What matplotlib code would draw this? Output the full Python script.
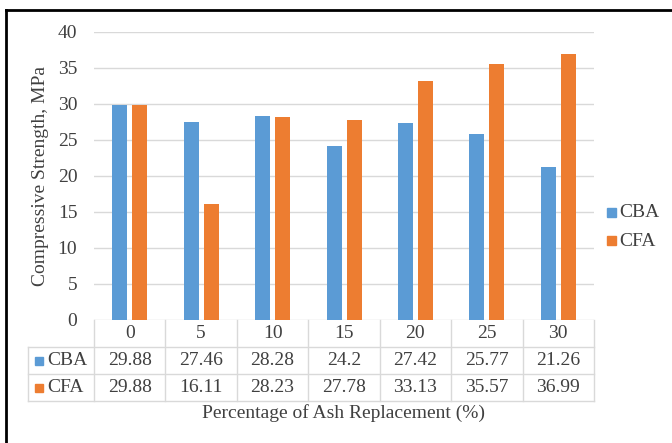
import matplotlib
matplotlib.use("Agg")
import matplotlib.pyplot as plt
import numpy as np
from matplotlib.lines import Line2D
from matplotlib.patches import Rectangle

plt.rcParams["font.family"] = ["Liberation Serif", "DejaVu Serif"]

# ash replacement levels (%) and strengths (MPa)
replacement = ["0", "5", "10", "15", "20", "25", "30"]
cba = [29.88, 27.46, 28.28, 24.2, 27.42, 25.77, 21.26]
cfa = [29.88, 16.11, 28.23, 27.78, 33.13, 35.57, 36.99]
series = ["CBA", "CFA"]
colors = ["#5B9BD5", "#ED7D31"]

W, H = 672, 443
FS = 14
fig = plt.figure(figsize=(W / 100, H / 100), dpi=100)

# plot area in pixel coordinates
x0, x1 = 94, 594
y_top, y_zero = 32, 320
ax = fig.add_axes([x0 / W, 1 - y_zero / H, (x1 - x0) / W, (y_zero - y_top) / H])

n = len(replacement)
x = np.arange(n)
bw = 0.21
gap = 0.035
ax.bar(x - gap - bw / 2, cba, bw, color=colors[0], zorder=3)
ax.bar(x + gap + bw / 2, cfa, bw, color=colors[1], zorder=3)

ax.set_xlim(-0.5, n - 0.5)
ax.set_ylim(0, 40)
ax.set_yticks(range(0, 41, 5))
ax.yaxis.grid(True, color="#d9d9d9", lw=1, zorder=0)
ax.tick_params(axis="y", length=0, pad=12, labelsize=FS, labelcolor="#404040")
ax.tick_params(axis="x", length=0, labelbottom=False)
for s in ax.spines.values():
    s.set_visible(False)
ax.set_ylabel("Compressive Strength, MPa", fontsize=FS, color="#404040", labelpad=6)

# data table below the axis, in figure pixel coords
def fx(px):
    return px / W

def fy(py):
    return 1 - py / H

col_w = (x1 - x0) / n
rows = [320, 347, 374, 401]
t_left = 28
grid_c = "#d9d9d9"
txt_c = "#404040"

for yy in rows[1:]:
    fig.add_artist(Line2D([fx(t_left), fx(x1)], [fy(yy), fy(yy)], color=grid_c, lw=1))
fig.add_artist(Line2D([fx(t_left), fx(t_left)], [fy(rows[1]), fy(rows[3])], color=grid_c, lw=1))
for i in range(n + 1):
    xx = x0 + i * col_w
    fig.add_artist(Line2D([fx(xx), fx(xx)], [fy(rows[0]), fy(rows[3])], color=grid_c, lw=1))

for i, lab in enumerate(replacement):
    cx = x0 + (i + 0.5) * col_w
    fig.text(fx(cx), fy((rows[0] + rows[1]) / 2), lab, ha="center", va="center",
             fontsize=FS, color=txt_c)
    for r, vals in enumerate([cba, cfa]):
        cy = (rows[r + 1] + rows[r + 2]) / 2
        fig.text(fx(cx), fy(cy), f"{vals[i]:g}", ha="center", va="center",
                 fontsize=FS, color=txt_c)

for r, name in enumerate(series):
    cy = (rows[r + 1] + rows[r + 2]) / 2
    fig.add_artist(Rectangle((fx(35), fy(cy + 4)), fx(8), 8 / H, color=colors[r]))
    fig.text(fx(47), fy(cy), name, ha="left", va="center", fontsize=FS, color=txt_c)

fig.text(fx(344), fy(413), "Percentage of Ash Replacement (%)", ha="center", va="center",
         fontsize=FS, color=txt_c)

# legend on the right
for r, name in enumerate(series):
    cy = 213 + r * 28
    fig.add_artist(Rectangle((fx(607), fy(cy + 4)), fx(9), 9 / H, color=colors[r]))
    fig.text(fx(619), fy(cy), name, ha="left", va="center", fontsize=FS, color=txt_c)

# outer frame: top and left edges
fig.add_artist(Line2D([fx(6), fx(W)], [fy(10), fy(10)], color="black", lw=2))
fig.add_artist(Line2D([fx(6), fx(6)], [fy(10), 0], color="black", lw=2))

fig.savefig("out.png", dpi=100)
